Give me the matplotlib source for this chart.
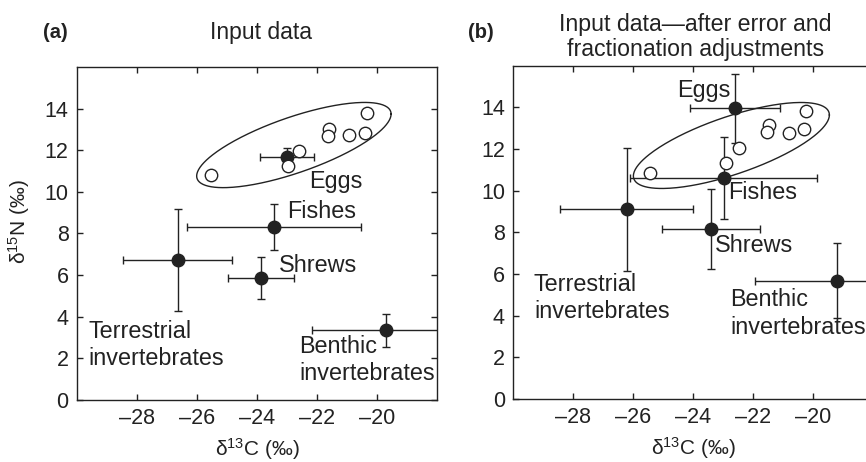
import numpy as np
import matplotlib.pyplot as plt

plt.rcParams['font.family'] = ['Liberation Sans', 'DejaVu Sans']
plt.rcParams['mathtext.fontset'] = 'custom'
plt.rcParams['mathtext.rm'] = 'Liberation Sans'
plt.rcParams['mathtext.default'] = 'regular'

ink = '#222222'

groups = ['Eggs', 'Fishes', 'Shrews', 'Terrestrial', 'Benthic']

# (a) input data: group means with error bars
a_x = [-23.0, -23.43, -23.87, -26.64, -19.69]
a_y = [11.69, 8.31, 5.86, 6.71, 3.34]
a_xerr = [0.91, 2.9, 1.1, 1.82, 2.47]
a_yerr = [0.4, 1.1, 1.03, 2.45, 0.77]

# (b) after error and fractionation adjustments
b_x = [-22.6, -22.98, -23.4, -26.22, -19.22]
b_y = [13.96, 10.62, 8.15, 9.11, 5.68]
b_xerr = [1.5, 3.12, 1.64, 2.22, 2.73]
b_yerr = [1.65, 1.96, 1.93, 2.95, 1.79]

# individual egg samples (open circles)
a_egg_x = [-25.54, -22.59, -22.98, -21.6, -21.62, -20.93, -20.4, -20.33]
a_egg_y = [10.81, 11.97, 11.24, 13.04, 12.69, 12.74, 12.85, 13.77]
b_egg_x = [-25.45, -22.9, -22.48, -21.48, -21.54, -20.82, -20.3, -20.24]
b_egg_y = [10.83, 11.31, 12.07, 13.14, 12.8, 12.77, 12.98, 13.83]

# egg ellipses: centre and covariance (data units)
a_ell_center = [-22.77, 12.25]
a_ell_cov = [[10.5, 4.82], [4.82, 4.19]]
b_ell_center = [-22.73, 12.17]
b_ell_cov = [[10.67, 4.78], [4.78, 4.26]]

x_ticks = [-28, -26, -24, -22, -20]
y_ticks = [0, 2, 4, 6, 8, 10, 12, 14]


def tick_label(v):
    return ('\u2013%d' % -v) if v < 0 else '%d' % v


def draw_panel(ax, x, y, xerr, yerr, ex, ey, center, cov):
    t = np.linspace(0, 2 * np.pi, 300)
    L = np.linalg.cholesky(np.array(cov))
    pts = L @ np.vstack([np.cos(t), np.sin(t)])
    ax.plot(center[0] + pts[0], center[1] + pts[1], color=ink, lw=1.0, zorder=2)
    ax.errorbar(x, y, xerr=xerr, yerr=yerr, fmt='o', color=ink, ms=9,
                elinewidth=1.0, capsize=3, capthick=1.0, zorder=3)
    ax.scatter(ex, ey, s=80, facecolor='white', edgecolor=ink, lw=1.0, zorder=4)

    ax.set_xlim(-30, -18)
    ax.set_ylim(0, 16)
    ax.set_xticks(x_ticks)
    ax.set_xticklabels([tick_label(v) for v in x_ticks])
    ax.set_yticks(y_ticks)
    ax.set_yticklabels([tick_label(v) for v in y_ticks])
    ax.tick_params(direction='in', length=4, width=1.0, top=True, right=True,
                   labelsize=15.5, colors=ink, pad=6)
    for s in ax.spines.values():
        s.set_linewidth(1.0)
        s.set_color(ink)
    ax.set_xlabel('δ$^{13}$C (‰)', fontsize=15, color=ink, labelpad=5)


fig = plt.figure(figsize=(8.66, 4.62), dpi=100)
ax1 = fig.add_axes([0.0889, 0.1342, 0.4157, 0.7208])
ax2 = fig.add_axes([0.5927, 0.1364, 0.4157, 0.7214])

draw_panel(ax1, a_x, a_y, a_xerr, a_yerr, a_egg_x, a_egg_y, a_ell_center, a_ell_cov)
draw_panel(ax2, b_x, b_y, b_xerr, b_yerr, b_egg_x, b_egg_y, b_ell_center, b_ell_cov)

ax1.set_ylabel('δ$^{15}$N (‰)', fontsize=15, color=ink)
ax1.yaxis.set_label_coords(-0.125, 0.535)

fs = 16.8
kw = dict(fontsize=fs, color=ink, va='center', ha='left', linespacing=1.25)
ax1.text(-22.27, 10.52, 'Eggs', **kw)
ax1.text(-22.99, 9.07, 'Fishes', **kw)
ax1.text(-23.28, 6.47, 'Shrews', **kw)
ax1.text(-29.62, 2.64, 'Terrestrial\ninvertebrates', **kw)
ax1.text(-22.6, 1.93, 'Benthic\ninvertebrates', **kw)

ax2.text(-24.53, 14.79, 'Eggs', **kw)
ax2.text(-22.85, 9.9, 'Fishes', **kw)
ax2.text(-23.28, 7.39, 'Shrews', **kw)
ax2.text(-29.31, 4.85, 'Terrestrial\ninvertebrates', **kw)
ax2.text(-22.78, 4.1, 'Benthic\ninvertebrates', **kw)

fig.text(0.301, 0.929, 'Input data', fontsize=16.5, color=ink, ha='center', va='center')
fig.text(0.803, 0.92, 'Input data\u2014after error and\nfractionation adjustments',
         fontsize=16.7, color=ink, ha='center', va='center', linespacing=1.15)
fig.text(0.064, 0.929, '(a)', fontsize=14.5, fontweight='bold', color=ink,
         ha='center', va='center')
fig.text(0.555, 0.929, '(b)', fontsize=14.5, fontweight='bold', color=ink,
         ha='center', va='center')

fig.savefig('out.png', dpi=100)
